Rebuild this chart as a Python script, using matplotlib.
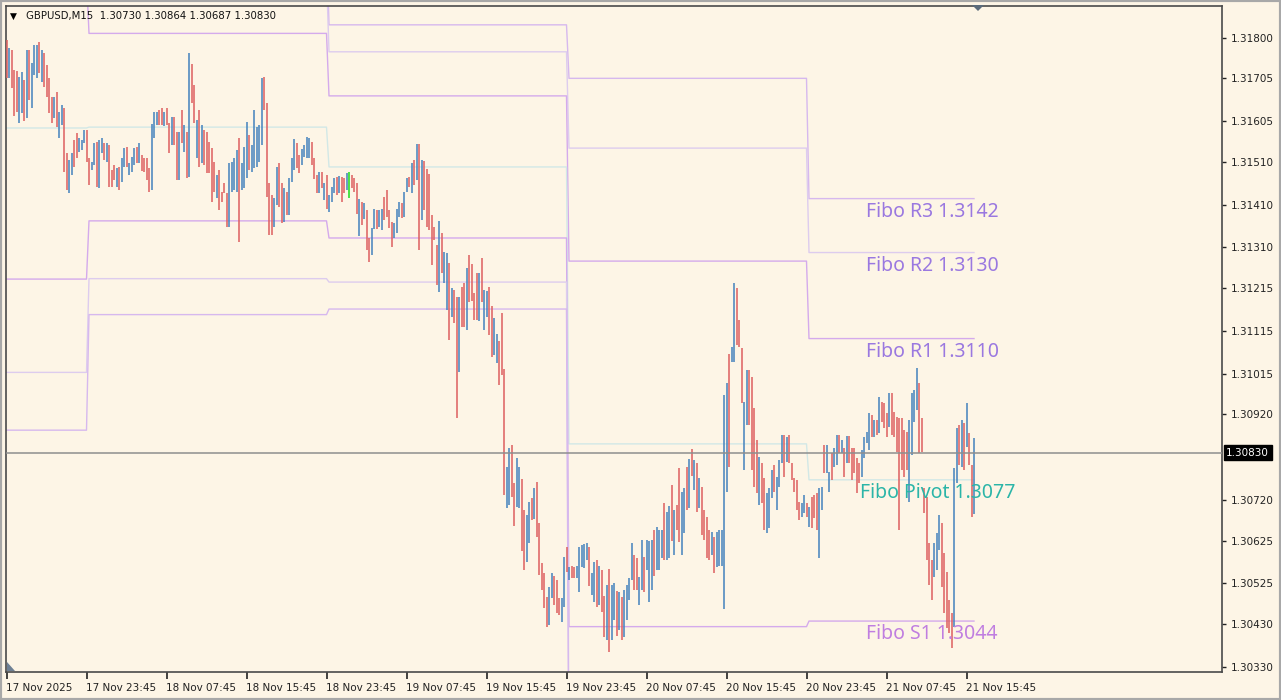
import numpy as np
import pandas as pd
import matplotlib
matplotlib.use("Agg")
import matplotlib.pyplot as plt
from matplotlib import transforms
from matplotlib.patches import Polygon, Rectangle

# GBPUSD M15 bars, prices in points (1e-5)
bar_high = [
    131795, 131776, 131771, 131724, 131722, 131708, 131720, 131701, 131771, 131771,
    131741, 131783, 131783, 131790, 131771, 131764, 131736, 131706, 131661, 131661,
    131673, 131626, 131643, 131636, 131531, 131514, 131531, 131561, 131577, 131566,
    131561, 131584, 131584, 131519, 131510, 131554, 131556, 131561, 131566, 131554,
    131554, 131549, 131491, 131503, 131496, 131498, 131519, 131542, 131545, 131507,
    131521, 131542, 131545, 131554, 131526, 131519, 131519, 131496, 131598, 131626,
    131626, 131631, 131636, 131626, 131636, 131601, 131615, 131615, 131580, 131580,
    131631, 131596, 131580, 131764, 131738, 131689, 131608, 131631, 131596, 131584,
    131580, 131556, 131542, 131510, 131479, 131491, 131439, 131461, 131437, 131507,
    131510, 131519, 131538, 131566, 131507, 131545, 131603, 131573, 131549, 131631,
    131591, 131596, 131706, 131708, 131647, 131461, 131432, 131425, 131498, 131507,
    131461, 131449, 131439, 131472, 131519, 131563, 131554, 131526, 131540, 131549,
    131568, 131566, 131556, 131519, 131479, 131486, 131486, 131461, 131479, 131432,
    131451, 131472, 131475, 131477, 131475, 131472, 131484, 131486, 131479, 131472,
    131461, 131423, 131416, 131414, 131397, 131332, 131355, 131400, 131397, 131397,
    131400, 131428, 131444, 131397, 131369, 131367, 131400, 131416, 131414, 131439,
    131472, 131475, 131507, 131514, 131552, 131552, 131514, 131512, 131493, 131482,
    131386, 131358, 131316, 131372, 131344, 131299, 131297, 131274, 131215, 131211,
    131194, 131194, 131218, 131227, 131262, 131292, 131271, 131204, 131250, 131250,
    131285, 131211, 131208, 131218, 131173, 131145, 131108, 131091, 131157, 131026,
    130797, 130841, 130848, 130760, 130818, 130797, 130769, 130697, 130685, 130715,
    130725, 130748, 130762, 130666, 130573, 130549, 130493, 130517, 130549, 130542,
    130533, 130491, 130491, 130587, 130610, 130563, 130566, 130563, 130566, 130610,
    130615, 130617, 130620, 130610, 130549, 130575, 130580, 130566, 130556, 130496,
    130521, 130559, 130521, 130526, 130507, 130505, 130493, 130510, 130521, 130538,
    130620, 130592, 130585, 130540, 130627, 130587, 130627, 130624, 130627, 130650,
    130657, 130650, 130650, 130713, 130692, 130706, 130755, 130697, 130708, 130795,
    130739, 130748, 130797, 130816, 130839, 130813, 130806, 130771, 130750, 130697,
    130680, 130650, 130645, 130634, 130645, 130650, 130650, 130965, 130993, 131061,
    131077, 131227, 131215, 131140, 131075, 130949, 131024, 131024, 131007, 130935,
    130860, 130820, 130806, 130771, 130736, 130748, 130790, 130802, 130774, 130813,
    130872, 130872, 130867, 130872, 130806, 130771, 130767, 130715, 130713, 130732,
    130713, 130704, 130727, 130732, 130736, 130748, 130750, 130848, 130848, 130785,
    130830, 130841, 130872, 130872, 130860, 130841, 130870, 130870, 130841, 130841,
    130818, 130806, 130837, 130867, 130879, 130923, 130919, 130907, 130907, 130961,
    130949, 130947, 130923, 130970, 130970, 130926, 130914, 130912, 130912, 130884,
    130879, 130907, 130970, 130977, 131028, 130993, 130912, 130748, 130727, 130620,
    130580, 130620, 130643, 130685, 130666, 130596, 130552, 130486, 130456, 130795,
    130888, 130895, 130907, 130900, 130947, 130877, 130802, 130864,
]
bar_low = [
    131706, 131706, 131682, 131617, 131626, 131601, 131624, 131605, 131612, 131654,
    131636, 131713, 131706, 131717, 131696, 131685, 131661, 131624, 131601, 131612,
    131591, 131566, 131596, 131486, 131444, 131437, 131479, 131498, 131519, 131533,
    131538, 131554, 131510, 131456, 131491, 131503, 131451, 131449, 131531, 131514,
    131510, 131451, 131451, 131468, 131451, 131444, 131463, 131498, 131498, 131479,
    131486, 131503, 131507, 131507, 131489, 131486, 131468, 131439, 131444, 131566,
    131596, 131596, 131596, 131594, 131596, 131531, 131549, 131549, 131468, 131468,
    131554, 131533, 131472, 131475, 131647, 131601, 131519, 131498, 131507, 131503,
    131484, 131484, 131416, 131439, 131425, 131397, 131416, 131437, 131358, 131358,
    131439, 131444, 131439, 131323, 131444, 131449, 131472, 131491, 131486, 131496,
    131498, 131510, 131549, 131631, 131428, 131339, 131339, 131358, 131409, 131404,
    131367, 131369, 131386, 131386, 131463, 131491, 131496, 131484, 131503, 131521,
    131519, 131519, 131503, 131470, 131437, 131437, 131449, 131421, 131400, 131393,
    131416, 131437, 131432, 131437, 131416, 131437, 131444, 131425, 131449, 131439,
    131388, 131337, 131362, 131376, 131304, 131276, 131292, 131353, 131353, 131358,
    131351, 131374, 131381, 131355, 131311, 131332, 131344, 131381, 131379, 131381,
    131439, 131451, 131437, 131456, 131468, 131304, 131374, 131397, 131358, 131351,
    131269, 131327, 131222, 131206, 131250, 131227, 131164, 131094, 131147, 131133,
    130912, 131019, 131124, 131124, 131117, 131183, 131185, 131140, 131140, 131138,
    131183, 131117, 131147, 131105, 131054, 131059, 131040, 130989, 131012, 130732,
    130701, 130708, 130727, 130659, 130704, 130701, 130601, 130556, 130575, 130620,
    130673, 130676, 130634, 130545, 130510, 130468, 130423, 130428, 130491, 130475,
    130456, 130451, 130435, 130470, 130552, 130533, 130538, 130538, 130538, 130505,
    130563, 130561, 130580, 130519, 130498, 130482, 130470, 130475, 130458, 130400,
    130393, 130365, 130393, 130440, 130402, 130416, 130393, 130400, 130440, 130486,
    130533, 130510, 130510, 130475, 130510, 130505, 130556, 130482, 130510, 130542,
    130556, 130556, 130585, 130580, 130580, 130585, 130624, 130592, 130650, 130622,
    130592, 130643, 130697, 130701, 130776, 130743, 130692, 130701, 130638, 130627,
    130585, 130580, 130592, 130549, 130563, 130566, 130566, 130465, 130739, 130797,
    131042, 131042, 131082, 131077, 130947, 130790, 130895, 130895, 130790, 130750,
    130736, 130708, 130713, 130650, 130643, 130655, 130725, 130739, 130697, 130750,
    130806, 130774, 130809, 130806, 130767, 130739, 130697, 130673, 130680, 130690,
    130680, 130657, 130655, 130678, 130650, 130585, 130697, 130783, 130783, 130739,
    130767, 130797, 130802, 130830, 130830, 130774, 130806, 130806, 130767, 130783,
    130736, 130760, 130774, 130818, 130853, 130837, 130867, 130867, 130872, 130877,
    130902, 130888, 130867, 130891, 130872, 130867, 130832, 130650, 130790, 130774,
    130790, 130715, 130825, 130902, 130930, 130830, 130832, 130690, 130580, 130521,
    130486, 130540, 130556, 130603, 130517, 130456, 130421, 130409, 130374, 130423,
    130760, 130802, 130797, 130790, 130844, 130802, 130680, 130687,
]
# B = up bar, R = down bar, G = highlighted bar
bar_dir = (
    "RBRRRBBRBR" "BBBRBRRRRB" "RBBRRBBRRB" "BBRRBBRBBR" "BRRRBRBBRB"
    "BBRBRRRRBB" "BRRBRRBRRB" "RBRBRRBRBR" "RRRRBRRRRB" "BBBRBBBRBB"
    "BBBRRRRBBR" "RBRBBBRRBB" "BBRRRBRBRB" "BBRBRRBGRR" "RBRBRRBBRB"
    "BRRRRBBBRB" "BRBRBRBRRR" "RRRBRBBRBR" "RBRRBRRRRB" "RBBRRBBRRR"
    "BBRRBBRRBB" "RBRRRRRBBR" "RRBBRBRRBB" "BBBRBBRBRR" "BRBBRBRBBB"
    "BRRBBRBBBR" "BBBRBBRBRR" "BBRBRBRBRR" "RRBRBBBBBR" "BBRRRBBRRR"
    "RBRRBBBRBB" "BRBRRRRRBB" "RBRRRBBRBB" "RBBRBRBRRR" "RRBBBBRBRB"
    "RRRBRRRRRR" "RBBBBRRRRR" "RBBBRRRRRB" "BRBRBRRB"
)

# daily Fibonacci pivot levels (17..21 Nov)
fibo_r3 = [1.32295, 1.32029, 1.31830, 1.31705, 1.31424]
fibo_r2 = [1.32160, 1.31945, 1.31767, 1.31542, 1.31298]
fibo_r1 = [1.31942, 1.31810, 1.31664, 1.31278, 1.31097]
fibo_pivot = [1.31589, 1.31591, 1.31498, 1.30851, 1.30767]
fibo_s1 = [1.31236, 1.31372, 1.31332, 1.30424, 1.30437]
fibo_s2 = [1.31018, 1.31237, 1.31229, 1.30160, 1.30230]
fibo_s3 = [1.30883, 1.31153, 1.31166, 1.29997, 1.30104]

last_ohlc = [1.30730, 1.30864, 1.30687, 1.30830]
price_ticks = [1.31800, 1.31705, 1.31605, 1.31510, 1.31410, 1.31310, 1.31215, 1.31115,
               1.31015, 1.30920, 1.30720, 1.30625, 1.30525, 1.30430, 1.30330]

highs = np.array(bar_high) / 1e5
lows = np.array(bar_low) / 1e5
n = len(highs)
times = pd.date_range("2025-11-17 15:45", periods=n, freq="15min")
x = np.arange(n)

BG = "#FDF5E6"
fig = plt.figure(figsize=(12.81, 7.0), dpi=100, facecolor=BG)
ax = fig.add_axes([6 / 1281, 28 / 700, 1216 / 1281, 666 / 700])
ax.set_facecolor(BG)

# pivot lines, one value per bar from the day it belongs to
day_idx = (times.normalize() - times.normalize()[0]).days.values
level_styles = [
    (fibo_r3, "#D6B8EE"), (fibo_r2, "#DDCCEE"), (fibo_r1, "#D4AAEC"),
    (fibo_pivot, "#D2E8E6"),
    (fibo_s1, "#D4AAEC"), (fibo_s2, "#DDCCEE"), (fibo_s3, "#D6B8EE"),
]
for vals, col in level_styles:
    ax.plot(x, np.array(vals)[day_idx], color=col, lw=1.0, zorder=1)

# bars
cmap = {"B": "#4A86BF", "R": "#DE6464", "G": "#22DD22"}
colors = [cmap[c] for c in bar_dir]
ax.vlines(x, lows, highs, colors=colors, linewidth=1.15, zorder=3)

# current price
ax.axhline(last_ohlc[3], color="#8E8E8E", lw=1.1, zorder=4)
tr = transforms.blended_transform_factory(ax.transAxes, ax.transData)
ax.text(1.0035, last_ohlc[3], f"{last_ohlc[3]:.5f}", transform=tr, color="white",
        fontsize=7.5, va="center", ha="left", zorder=6,
        bbox=dict(boxstyle="square,pad=0.25", fc="black", ec="black"))

# fibo labels for the last day
label_x = 344.0
labels = [("Fibo R3", fibo_r3[-1], "#9A78E0", 0), ("Fibo R2", fibo_r2[-1], "#9A78E0", 0),
          ("Fibo R1", fibo_r1[-1], "#9A78E0", 0), ("Fibo Pivot", fibo_pivot[-1], "#2BB5A8", -2.5),
          ("Fibo S1", fibo_s1[-1], "#C07EE0", 0)]
for name, val, col, dx in labels:
    ax.annotate(f"{name} {val:.4f}", xy=(label_x + dx, val), xytext=(0, -13),
                textcoords="offset pixels", color=col, fontsize=14,
                family="Noto Sans", va="center", ha="left", zorder=5)

ax.set_xlim(-0.2, 486.2)
ax.set_ylim(1.30318, 1.31874)

# axes / ticks
ax.yaxis.tick_right()
ax.set_yticks(price_ticks)
ax.set_yticklabels([f"{v:.5f}" for v in price_ticks])
tick_pos = list(range(0, n, 32))
tick_lab = [times[i].strftime("%d %b %H:%M") for i in tick_pos]
tick_lab[0] = times[0].strftime("%d %b %Y")
ax.set_xticks(tick_pos)
ax.set_xticklabels(tick_lab)
for lab in ax.get_xticklabels():
    lab.set_ha("left")
ax.tick_params(axis="y", direction="out", length=3, width=1, pad=3,
               labelsize=7.5, colors="#222222")
ax.tick_params(axis="x", direction="out", length=5, width=1.2, pad=3,
               labelsize=7.5, colors="#222222")
for sp in ax.spines.values():
    sp.set_color("#4A4A4A")
    sp.set_linewidth(1.2)

# header
fig.text(10 / 1281, 1 - 16 / 700, "\u25BC", fontsize=6.5, va="center", color="black")
fig.text(26 / 1281, 1 - 16 / 700,
         "GBPUSD,M15  " + " ".join(f"{v:.5f}" for v in last_ohlc),
         fontsize=7.3, va="center", color="#111111")

# shift marker and corner marker
fig.patches.append(Polygon([[972 / 1281, 1 - 5 / 700], [984 / 1281, 1 - 5 / 700],
                            [978 / 1281, 1 - 11 / 700]], closed=True,
                           transform=fig.transFigure, fc="#5A6A7A", ec="none"))
fig.patches.append(Polygon([[7 / 1281, 1 - 662 / 700], [7 / 1281, 1 - 671 / 700],
                            [15 / 1281, 1 - 671 / 700]], closed=True,
                           transform=fig.transFigure, fc="#6E8094", ec="none"))
fig.patches.append(Rectangle((0, 0), 1, 1, transform=fig.transFigure, fill=False,
                             ec="#A8A8A8", lw=3))

fig.savefig("out.png", dpi=100, facecolor=BG)
